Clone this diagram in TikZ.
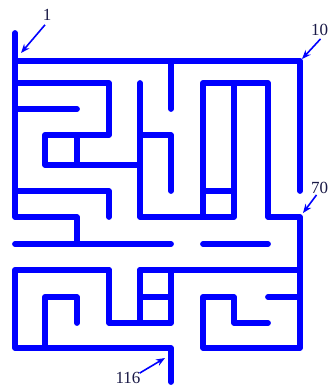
\documentclass[tikz,border=0pt]{standalone}
\usepackage{fontspec}
\setmainfont{Liberation Serif}
\usetikzlibrary{arrows.meta}
\definecolor{mazeblue}{RGB}{0,0,255}
\definecolor{labelink}{RGB}{25,25,70}
\begin{document}
\begin{tikzpicture}[x=1pt,y=-1pt,
  wall/.style={draw=mazeblue,line width=5.8pt,line cap=round,line join=round},
  pointer/.style={draw=mazeblue,line width=1.6pt,-{Stealth[length=9pt,width=7pt]}},
  lbl/.style={text=labelink,font=\fontsize{17}{17}\selectfont,inner sep=0pt}]
\useasboundingbox[fill=white] (0,0) rectangle (329,390);
% maze walls
\draw[wall] (77,244) -- (77,217) -- (15,217) -- (15,33);
\draw[wall] (15,61) -- (300,61) -- (300,191);
\draw[wall] (15,83) -- (109,83) -- (109,135) -- (45,135) -- (45,165) -- (140,165);
\draw[wall] (77,135) -- (77,165);
\draw[wall] (15,109) -- (77,109);
\draw[wall] (140,83) -- (140,217) -- (234,217) -- (234,83) -- (268,83) -- (268,217) -- (300,217) -- (300,348) -- (203,348) -- (203,297) -- (234,297) -- (234,323) -- (268,323);
\draw[wall] (203,217) -- (203,83) -- (234,83);
\draw[wall] (140,135) -- (171,135) -- (171,191);
\draw[wall] (171,61) -- (171,109);
\draw[wall] (203,191) -- (234,191);
\draw[wall] (15,191) -- (109,191) -- (109,217);
\draw[wall] (15,244) -- (171,244);
\draw[wall] (203,244) -- (268,244);
\draw[wall] (109,270) -- (15,270) -- (15,348) -- (171,348) -- (171,382);
\draw[wall] (140,270) -- (300,270);
\draw[wall] (109,270) -- (109,323) -- (171,323) -- (171,270);
\draw[wall] (140,270) -- (140,323);
\draw[wall] (140,297) -- (171,297);
\draw[wall] (45,348) -- (45,297) -- (77,297) -- (77,323);
\draw[wall] (268,297) -- (300,297);
% labels
\node[lbl] (n1) at (47,15) {1};
\node[lbl] (n10) at (319.5,30) {10};
\node[lbl] (n70) at (319.5,188) {70};
\node[lbl] (n116) at (128,378) {116};
\coordinate (t1) at (21,53);
\coordinate (t10) at (302,59);
\coordinate (t70) at (303,213);
\coordinate (t116) at (165,358);
\draw[pointer] (n1.south) ++(-2,4) -- (t1);
\draw[pointer] (n10.south) ++(1,3) -- (t10);
\draw[pointer] (n70.south) ++(-3,1) -- (t70);
\draw[pointer] (n116.north east) ++(-1,1) -- (t116);
\end{tikzpicture}
\end{document}
